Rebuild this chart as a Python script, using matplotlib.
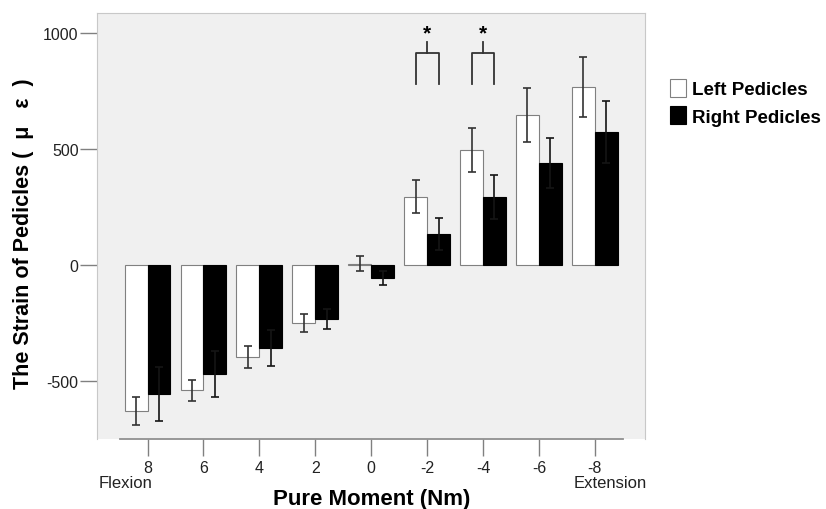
import numpy as np
import matplotlib.pyplot as plt

plt.rcParams['font.family'] = ['Liberation Sans', 'DejaVu Sans']
plt.rcParams['axes.unicode_minus'] = False

moments = ["8", "6", "4", "2", "0", "-2", "-4", "-6", "-8"]
left_mean = [-629, -539, -397, -250, 5, 293, 496, 647, 767]
left_err = [60, 45, 47, 37, 32, 71, 95, 116, 129]
right_mean = [-556, -470, -358, -233, -56, 134, 293, 440, 573]
right_err = [116, 100, 77, 43, 30, 69, 95, 107, 134]
sig_groups = [5, 6]  # "-2" and "-4"

x = np.arange(len(moments))
w = 0.41

fig = plt.figure(figsize=(8.26, 5.10), dpi=100)
ax = fig.add_axes([0.117, 0.137, 0.664, 0.836])
ax.set_facecolor("#f0f0f0")

ax.bar(x - w/2, left_mean, w, yerr=left_err, color="white",
       edgecolor="#808080", linewidth=0.8,
       error_kw=dict(ecolor="#333333", elinewidth=1.2, capsize=3, capthick=1.2),
       label="Left Pedicles")
ax.bar(x + w/2, right_mean, w, yerr=right_err, color="black",
       edgecolor="black", linewidth=0.8,
       error_kw=dict(ecolor="#151515", elinewidth=1.2, capsize=3, capthick=1.2),
       label="Right Pedicles")

# significance brackets
for g in sig_groups:
    ax.plot([g - w/2, g - w/2, g + w/2, g + w/2], [780, 914, 914, 780],
            color="#333333", lw=1.3)
    ax.plot([g, g], [914, 961], color="#333333", lw=1.3)
    ax.text(g, 958, "*", ha="center", va="bottom", fontsize=15, fontweight="bold")

ax.set_xlim(-0.91, 8.9)
ax.set_ylim(-750, 1086)
ax.set_yticks([-500, 0, 500, 1000])
ax.set_xticks(x)
ax.set_xticklabels(moments)
ax.tick_params(axis="both", colors="#808080", labelcolor="#222222", labelsize=11.5)
ax.tick_params(axis="y", length=12, width=1, pad=1)
ax.tick_params(axis="x", length=12, width=1, pad=3)

for s in ["top", "right", "left"]:
    ax.spines[s].set_color("#c8c8c8")
ax.spines["bottom"].set_color("#909090")
ax.spines["bottom"].set_linewidth(1.3)
ax.spines["bottom"].set_bounds(-0.5, 8.5)

ax.set_ylabel("The Strain of Pedicles (  \u03bc   \u03b5  )", fontsize=15.5,
              fontweight="bold")
ax.yaxis.set_label_coords(-0.115, 0.484)
ax.set_xlabel("Pure Moment (Nm)", fontsize=16, fontweight="bold")
ax.xaxis.set_label_coords(0.502, -0.114)
fig.text(0.119, 0.051, "Flexion", fontsize=12, color="#222222", ha="left", va="center")
fig.text(0.783, 0.051, "Extension", fontsize=12, color="#222222", ha="right", va="center")

leg = ax.legend(loc="upper left", bbox_to_anchor=(1.015, 0.885), frameon=False,
                prop=dict(weight="bold", size=13.5), handlelength=0.85,
                handleheight=1.1, handletextpad=0.3, labelspacing=0.45)

fig.savefig("out.png", dpi=100)
